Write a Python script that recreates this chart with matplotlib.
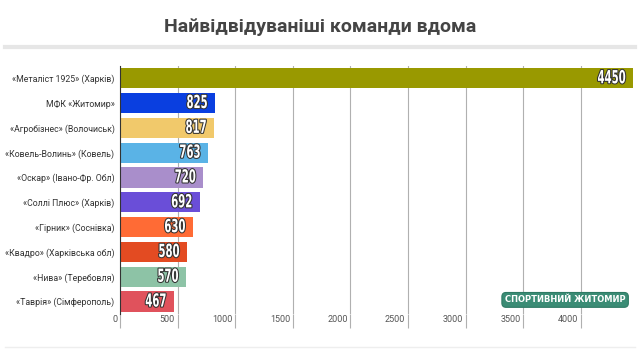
import matplotlib
matplotlib.use('Agg')
import matplotlib.pyplot as plt
import matplotlib.patheffects as pe
import matplotlib.transforms as mtransforms
from matplotlib.lines import Line2D

teams = ['«Металіст 1925» (Харків)', 'МФК «Житомир»', '«Агробізнес» (Волочиськ)',
         '«Ковель-Волинь» (Ковель)', '«Оскар» (Івано-Фр. Обл)', '«Соллі Плюс» (Харків)',
         '«Гірник» (Соснівка)', '«Квадро» (Харківська обл)', '«Нива» (Теребовля)',
         '«Таврія» (Сімферополь)']
attendance = [4450, 825, 817, 763, 720, 692, 630, 580, 570, 467]
colors = ['#999900', '#0a3fe0', '#f1c96b', '#5ab3e6', '#a98ecb', '#6a4ed8',
          '#ff6b35', '#e34b22', '#8dc3a6', '#e0525c']
xticks = [0, 500, 1000, 1500, 2000, 2500, 3000, 3500, 4000]


class Squeeze(pe.AbstractPathEffect):
    # narrow the text horizontally, keeping its right edge in place
    def __init__(self, sx, effects):
        super().__init__()
        self.sx = sx
        self.effects = effects

    def draw_path(self, renderer, gc, tpath, affine, rgbFace=None):
        x1 = affine.transform_path(tpath).get_extents().x1
        aff = affine + mtransforms.Affine2D().translate(-x1, 0).scale(self.sx, 1).translate(x1, 0)
        for eff in self.effects:
            eff.draw_path(renderer, gc, tpath, aff, rgbFace)


plt.rcParams['font.family'] = ['Roboto', 'DejaVu Sans']

fig = plt.figure(figsize=(6.4, 3.52), dpi=100)
ax = fig.add_axes([0.1875, 0.108, 0.803, 0.705])

pos = range(len(teams))
ax.barh(pos, attendance, height=0.82, color=colors, zorder=3)
ax.set_yticks(list(pos))
ax.set_yticklabels(teams, fontsize=6.3, color='#333333')
ax.set_ylim(len(teams) - 0.5, -0.5)
ax.set_xlim(0, 4460)
ax.set_xticks(xticks)
ax.set_xticklabels([str(t) for t in xticks], fontsize=6.5, color='#555555')

ax.grid(axis='x', color='#b0b0b0', linewidth=0.8, zorder=0)
ax.tick_params(axis='y', length=0, pad=4)
ax.tick_params(axis='x', length=10, color='#b0b0b0', width=0.8, pad=-9)
shift = mtransforms.ScaledTranslation(-2 / 72, 0, fig.dpi_scale_trans)
for lbl in ax.get_xticklabels():
    lbl.set_horizontalalignment('right')
    lbl.set_transform(lbl.get_transform() + shift)

for s in ['top', 'right', 'bottom']:
    ax.spines[s].set_visible(False)
ax.spines['left'].set_color('#333333')
ax.spines['left'].set_zorder(4)

for i, v in enumerate(attendance):
    ax.annotate(str(v), (v, i), xytext=(-5, 0), textcoords='offset points',
                ha='right', va='center', fontsize=13, fontweight='bold',
                family='DejaVu Sans', color='white', zorder=5,
                path_effects=[Squeeze(0.56, [pe.withStroke(linewidth=1.5, foreground='#333333')])])

fig.text(0.5, 0.922, 'Найвідвідуваніші команди вдома', ha='center', va='center',
         fontsize=14, fontweight='bold', color='#444444')
fig.add_artist(Line2D([0.008, 0.992], [0.866, 0.866], color='#e6e6e6', linewidth=3))
fig.add_artist(Line2D([0.008, 0.992], [0.015, 0.015], color='#eeeeee', linewidth=1))

fig.text(0.883, 0.148, 'СПОРТИВНИЙ ЖИТОМИР', ha='center', va='center',
         fontsize=6, fontweight='bold', color='white', family='DejaVu Sans', zorder=10,
         bbox=dict(boxstyle='round,pad=0.35,rounding_size=0.5', fc='#3b8c75', ec='#2e7a64', lw=0.8))

fig.savefig('out.png', dpi=100, facecolor='white')
